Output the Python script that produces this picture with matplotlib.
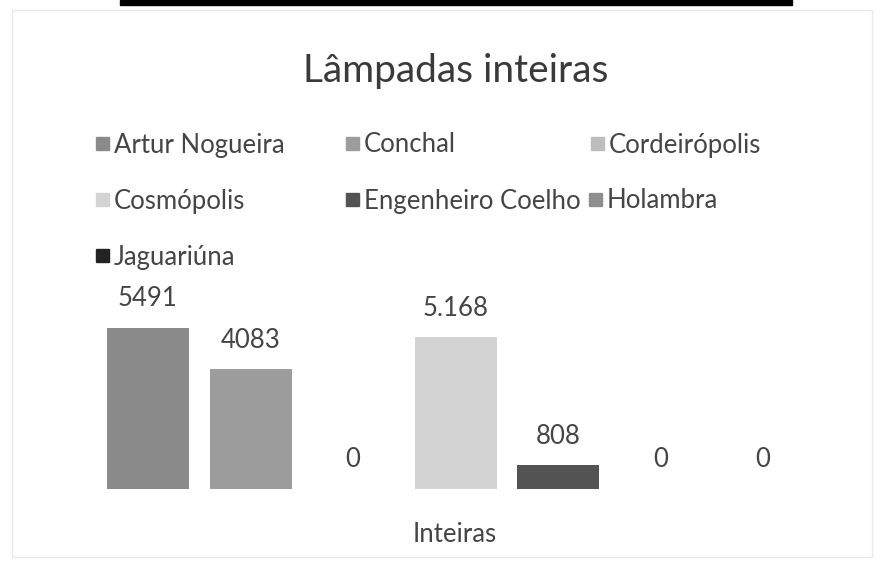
import matplotlib
matplotlib.use("Agg")
import matplotlib.pyplot as plt
from matplotlib.patches import Rectangle

plt.rcParams['font.family'] = ['Lato', 'DejaVu Sans']

# data
cidades = ["Artur Nogueira", "Conchal", "Cordeirópolis", "Cosmópolis",
           "Engenheiro Coelho", "Holambra", "Jaguariúna"]
valores = [5491, 4083, 0, 5168, 808, 0, 0]
rotulos = ["5491", "4083", "0", "5.168", "808", "0", "0"]
categoria = "Inteiras"
cores = ["#8a8a8a", "#9c9c9c", "#bdbdbd", "#d3d3d3", "#535353", "#8e8e8e", "#232323"]

W, H = 888, 569
fig = plt.figure(figsize=(W / 100, H / 100), dpi=100)
fig.patch.set_facecolor("white")

# scan artifacts: black strip on top, faint chart frame
fig.patches.append(Rectangle((120 / W, 1 - 5 / H), 672 / W, 5 / H,
                             transform=fig.transFigure, color="black", zorder=5))
fig.patches.append(Rectangle((12 / W, 12 / H), 860 / W, 547 / H,
                             transform=fig.transFigure, fill=False,
                             edgecolor="#e8e8e8", linewidth=1))

ax = fig.add_axes([96.75 / W, 80 / H, 717.5 / W, 176 / H])
x = list(range(len(cidades)))
ax.bar(x, valores, width=0.8, color=cores)
ax.set_xlim(-0.5, 6.5)
ax.set_ylim(0, 6000)
for i, v in enumerate(valores):
    ax.annotate(rotulos[i], (x[i], v), xytext=(0, 21), textcoords="offset points",
                ha="center", va="center", fontsize=18.5, color="#454545",
                annotation_clip=False)
for s in ax.spines.values():
    s.set_visible(False)
ax.set_xticks([])
ax.set_yticks([])

fig.text(456 / W, 1 - 71 / H, "Lâmpadas inteiras", ha="center", va="center",
         fontsize=28, color="#3a3a3a")
fig.text(455 / W, 1 - 535 / H, categoria, ha="center", va="center",
         fontsize=18.5, color="#454545")

# legend laid out like Excel (row by row)
leg_x = [102, 352, 597, 102, 352, 595, 102]
leg_y = [144, 144, 144, 200, 200, 200, 256]
for i, nome in enumerate(cidades):
    fig.patches.append(Rectangle(((leg_x[i] - 6) / W, 1 - (leg_y[i] + 6) / H), 13 / W, 13 / H,
                                 transform=fig.transFigure, color=cores[i]))
    fig.text((leg_x[i] + 12) / W, 1 - (leg_y[i] + 1) / H, nome, ha="left", va="center",
             fontsize=18.5, color="#454545")

fig.savefig("out.png", dpi=100)
